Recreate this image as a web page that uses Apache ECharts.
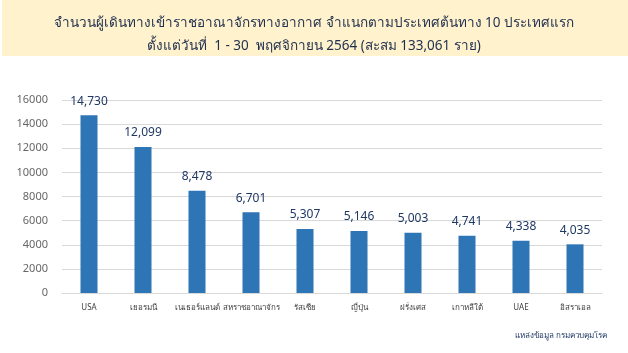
<!DOCTYPE html>
<html>
<head>
<meta charset="utf-8">
<title>ผู้เดินทางเข้าราชอาณาจักรทางอากาศ</title>
<script src="https://cdn.jsdelivr.net/npm/echarts@6/dist/echarts.min.js"></script>
<style>
  html, body { margin: 0; padding: 0; background: #fff; }
  #chart { width: 628px; height: 353px; }
</style>
</head>
<body>
<div id="chart"></div>
<script>
// ข้อมูล 10 ประเทศต้นทาง
var countries = ['USA', 'เยอรมนี', 'เนเธอร์แลนด์', 'สหราชอาณาจักร', 'รัสเซีย', 'ญี่ปุ่น', 'ฝรั่งเศส', 'เกาหลีใต้', 'UAE', 'อิสราเอล'];
var travellers = [14730, 12099, 8478, 6701, 5307, 5146, 5003, 4741, 4338, 4035];

var titleLine1 = 'จำนวนผู้เดินทางเข้าราชอาณาจักรทางอากาศ จำแนกตามประเทศต้นทาง 10 ประเทศแรก';
var titleLine2 = 'ตั้งแต่วันที่  1 - 30  พฤศจิกายน 2564 (สะสม 133,061 ราย)';
var sourceText = 'แหล่งข้อมูล กรมควบคุมโรค';

var font = 'Tahoma, "Noto Sans", "DejaVu Sans", sans-serif';
var chart = echarts.init(document.getElementById('chart'));

var option = {
    animation: false,
    textStyle: { fontFamily: font },
    graphic: [
        { type: 'rect', left: 2, top: 0, shape: { width: 626, height: 56 }, style: { fill: '#FFF2CC' }, silent: true }
    ],
    title: [
        {
            text: titleLine1 + '\n' + titleLine2,
            left: 'center', top: 7,
            textStyle: { fontSize: 13.5, fontWeight: 'normal', color: '#1F2F4F', lineHeight: 23, fontFamily: font }
        },
        {
            text: sourceText,
            right: 16, top: 327,
            textStyle: { fontSize: 8, fontWeight: 'normal', color: '#1F3864', fontFamily: font }
        }
    ],
    grid: { left: 62, right: 26, top: 100, bottom: 60 },
    xAxis: {
        type: 'category',
        data: countries,
        axisLine: { show: true, lineStyle: { color: '#D9D9D9' } },
        axisTick: { show: false },
        axisLabel: { fontSize: 8, color: '#404040', margin: 11, interval: 0 }
    },
    yAxis: {
        type: 'value',
        min: 0, max: 16000, interval: 2000,
        axisLine: { show: false },
        axisTick: { show: false },
        splitLine: { lineStyle: { color: '#D9D9D9' } },
        axisLabel: { fontSize: 11, color: '#666666', margin: 14, formatter: function (v) { return String(v); } }
    },
    series: [{
        type: 'bar',
        data: travellers,
        barWidth: 17,
        itemStyle: { color: '#2E75B6' },
        label: {
            show: true, position: 'top', distance: 8,
            fontSize: 12, color: '#1F3864',
            formatter: function (p) { return p.value.toLocaleString('en-US'); }
        }
    }]
};
chart.setOption(option);
</script>
</body>
</html>
